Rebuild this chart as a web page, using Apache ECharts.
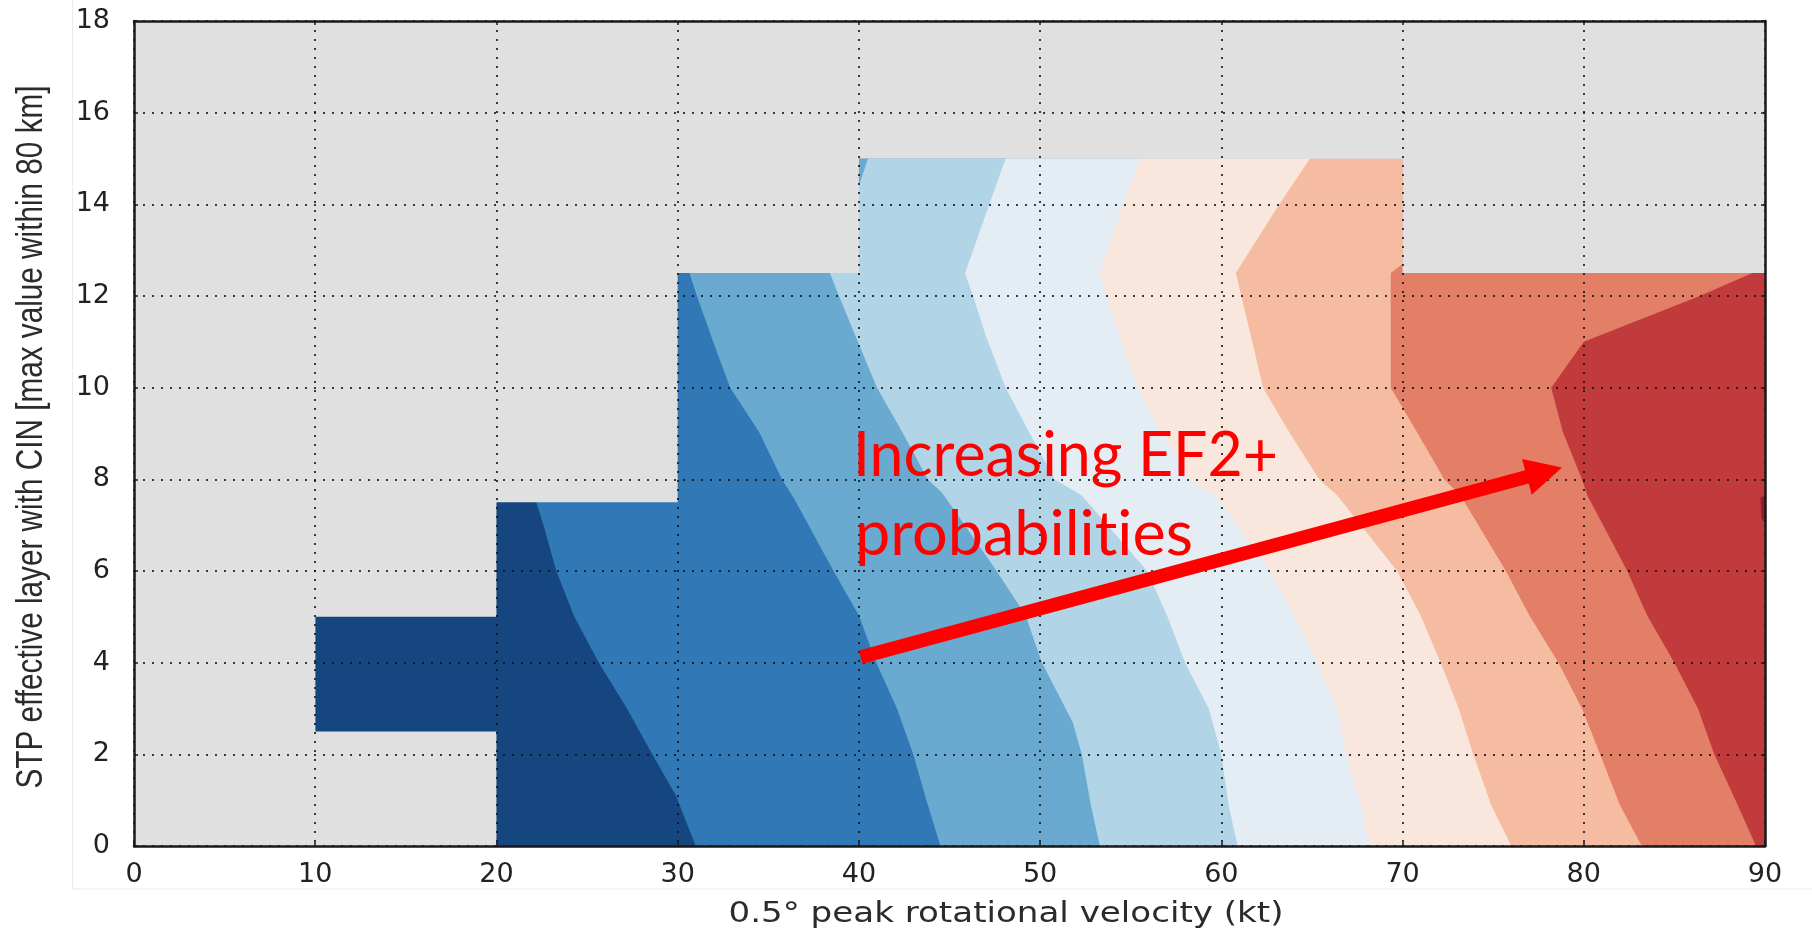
<!DOCTYPE html>
<html><head><meta charset="utf-8">
<script src="https://cdn.jsdelivr.net/npm/echarts@6/dist/echarts.min.js"></script>
<style>html,body{margin:0;padding:0;background:#fff}#c{width:1812px;height:937px}</style>
</head><body><div id="c"></div>
<script>
// ---- data domain (blocks of valid data) ----
const blockX0 = [10, 20, 30, 40, 70];
const blockX1 = [20, 30, 40, 70, 90];
const blockY0 = [2.5, 0, 0, 0, 0];
const blockY1 = [5, 7.5, 12.5, 15, 12.5];

// ---- contour boundaries, listed from top (y=15) to bottom (y=0), [x, y] ----
const bound1 = [[22.2,15],[22.2,7.5],[22.6,7],[23.3,6],[24.3,5],[25.65,4],[27.2,3],[28.6,2],[29.9,1.1],[31.0,0]];
const bound2 = [[30.65,15],[30.65,12.5],[31.06,12],[32.1,10.85],[32.9,10],[34.5,9.03],[35.75,8],[36.4,7.6],[38.6,6],[40.0,5.03],[40.96,4],[42.1,3],[43.0,2],[43.7,1.03],[44.5,0]];
const bound3 = [[40.5,15],[40,14.4],[38.4,12.5],[38.9,12],[39.8,11.14],[41.0,10],[42.4,9.03],[43.8,8],[44.6,7.7],[47.6,6],[49.2,5.03],[50.1,4],[51.8,2.7],[52.3,2],[52.8,0.89],[53.3,0]];
const bound4 = [[48.1,15],[47.2,14],[45.86,12.5],[46.3,12],[47.0,11.14],[48.1,10],[49.4,9.03],[50.8,8],[52.3,7.65],[55.9,6],[57.0,5.03],[58.0,4],[59.3,3],[60.0,2],[60.4,0.89],[60.9,0]];
const bound5 = [[55.5,15],[54.6,14],[53.3,12.5],[53.7,12],[54.6,10.85],[55.4,10],[56.7,9.03],[58.3,8],[59.7,7.65],[62.7,6],[64.0,5.03],[65.3,4],[66.4,3],[66.9,2],[67.7,0.89],[68.2,0]];
const bound6 = [[64.9,15],[63.2,14],[60.8,12.5],[61.1,12],[61.8,10.85],[62.3,10],[63.75,9.03],[65.4,8],[66.4,7.65],[69.7,6],[71.0,5.03],[72.1,4],[73.1,3],[73.9,2],[74.9,0.89],[76.0,0]];
const bound7 = [[70,15],[70,12.7],[69.35,12.5],[69.35,10],[70.8,9.03],[72.3,8],[73.2,7.65],[75.7,6],[77.0,5.03],[78.6,4],[79.9,3],[80.9,2],[82.0,0.89],[83.2,0]];
const bound8 = [[89.3,15],[89.3,12.5],[86.4,12.0],[80.0,11.0],[78.2,10.0],[78.85,9.03],[79.9,8.0],[80.2,7.65],[82.4,6],[83.5,5.03],[85.0,4],[86.3,3],[87.2,2],[88.5,0.89],[89.5,0]];
const peakPatch = [[89.75,7.6],[90,7.65],[90,7.05],[89.8,7.15]];

const bandColors = ['#15467f','#3179b6','#6aaad0','#b1d4e6','#e4edf4','#f9e6dc','#f6bca1','#e27f66','#c23b3c'];
const peakColor = '#8a1f2e';
const maskColor = '#e0e0e0';

// ---- axes ----
const xRange = [0, 90, 10];
const yRange = [0, 18, 2];
const xTitle = '0.5\u00b0 peak rotational velocity (kt)';
const yTitle = 'STP effective layer with CIN [max value within 80 km]';

// ---- annotation ----
const noteLines = ['Increasing EF2+', 'probabilit\u200Cies'];
const arrowTail = [40.1, 4.12];
const arrowTip = [78.8, 8.26];

// ---- build polygons from the arrays ----
const xMin = Math.min(...blockX0), xMax = Math.max(...blockX1), yTop = Math.max(...blockY1);
const bounds = [bound1, bound2, bound3, bound4, bound5, bound6, bound7, bound8];
const bandPolys = [[[xMin,0],[xMax,0],[xMax,yTop],[xMin,yTop]]]
  .concat(bounds.map(b => b.concat([[xMax,0],[xMax,yTop]])));

function maskPoly(){
  const k = blockY0.findIndex(v => v === 0);
  const pts = [[xRange[0], yRange[1]], [xRange[0], 0], [blockX0[k], 0]];
  for (let i = k - 1; i >= 0; i--) {
    pts.push([blockX1[i], blockY0[i]], [blockX0[i], blockY0[i]], [blockX0[i], blockY1[i]], [blockX1[i], blockY1[i]]);
  }
  for (let i = k; i < blockX0.length; i++) {
    pts.push([blockX0[i], blockY1[i]], [blockX1[i], blockY1[i]]);
  }
  pts.push([xRange[1], yRange[1]]);
  return pts;
}
const maskPts = maskPoly();

function measure(text, font){
  const c = document.createElement('canvas').getContext('2d');
  c.font = font; return c.measureText(text).width;
}
const yTitleFont = '36px "Liberation Sans", Arial, sans-serif';
const xTitleFont = '28px "DejaVu Sans", sans-serif';
const noteFont = '61px Lato, "Open Sans", sans-serif';

const chart = echarts.init(document.getElementById('c'), null, {renderer:'canvas'});

const gridDash = {type:[2,7], color:'rgba(15,15,15,0.8)', width:2};
const axLine = {show:true, onZero:false, lineStyle:{color:'#1a1a1a', width:2.5}};
const axTick = {show:true, inside:true, length:4, lineStyle:{color:'#1a1a1a', width:1.5}};
const lblStyle = {fontSize:27, fontFamily:'"DejaVu Sans", sans-serif', color:'#222'};

chart.setOption({
  animation:false,
  backgroundColor:'#ffffff',
  grid:{left:134, right:47, top:21, bottom:91, show:true, backgroundColor:maskColor, borderWidth:0, outerBoundsMode:'none', containLabel:false},
  xAxis:[
    {type:'value', min:xRange[0], max:xRange[1], interval:xRange[2], position:'bottom', z:10,
     axisLine:axLine, axisTick:axTick, axisLabel:Object.assign({margin:15}, lblStyle), splitLine:{show:true, lineStyle:gridDash}},
    {type:'value', min:xRange[0], max:xRange[1], interval:xRange[2], position:'top', z:10,
     axisLine:axLine, axisTick:axTick, axisLabel:{show:false}, splitLine:{show:false}}
  ],
  yAxis:[
    {type:'value', min:yRange[0], max:yRange[1], interval:yRange[2], position:'left', z:10,
     axisLine:axLine, axisTick:axTick, axisLabel:Object.assign({margin:24}, lblStyle), splitLine:{show:true, lineStyle:gridDash}},
    {type:'value', min:yRange[0], max:yRange[1], interval:yRange[2], position:'right', z:10,
     axisLine:axLine, axisTick:axTick, axisLabel:{show:false}, splitLine:{show:false}}
  ],
  series:[
    {type:'custom', name:'bands', coordinateSystem:'cartesian2d', z:2, silent:true,
     data: bandPolys.map((p,i)=>[i]),
     renderItem(params, api){
       const poly = bandPolys[params.dataIndex];
       return {type:'polygon', shape:{points:poly.map(p=>api.coord(p))}, style:{fill:bandColors[params.dataIndex]}};
     }},
    {type:'custom', name:'peak', coordinateSystem:'cartesian2d', z:3, silent:true,
     data:[[0]],
     renderItem(params, api){
       return {type:'polygon', shape:{points:peakPatch.map(p=>api.coord(p))}, style:{fill:peakColor}};
     }},
    {type:'custom', name:'mask', coordinateSystem:'cartesian2d', z:4, silent:true,
     data:[[0]],
     renderItem(params, api){
       return {type:'polygon', shape:{points:maskPts.map(p=>api.coord(p))}, style:{fill:maskColor}};
     }},
    {type:'custom', name:'arrow', coordinateSystem:'cartesian2d', z:30, silent:true,
     data:[[0]],
     renderItem(params, api){
       const a = api.coord(arrowTail), b = api.coord(arrowTip);
       const dx = b[0]-a[0], dy = b[1]-a[1], L = Math.hypot(dx,dy);
       const ux = dx/L, uy = dy/L, nx = -uy, ny = ux;
       const headLen = 36.4, headHalf = 18.5, sh = 6.8;
       const bx = b[0]-ux*headLen, by = b[1]-uy*headLen;
       return {type:'group', children:[
         {type:'polygon', shape:{points:[[a[0]+nx*sh,a[1]+ny*sh],[bx+nx*sh+ux*2,by+ny*sh+uy*2],[bx-nx*sh+ux*2,by-ny*sh+uy*2],[a[0]-nx*sh,a[1]-ny*sh]]}, style:{fill:'#ff0000'}},
         {type:'polygon', shape:{points:[[b[0],b[1]],[bx+nx*headHalf,by+ny*headHalf],[bx-nx*headHalf,by-ny*headHalf]]}, style:{fill:'#ff0000'}}
       ]};
     }}
  ],
  graphic:[
    {type:'rect', z:-10, silent:true, shape:{x:72.5, y:-2, width:1760, height:891}, style:{fill:null, stroke:'#ececec', lineWidth:1}},
    {type:'text', z:100, silent:true, x:32, y:437, rotation:Math.PI/2, scaleX:703/measure(yTitle, yTitleFont),
     style:{text:yTitle, font:yTitleFont, fill:'#2b2b2b', align:'center', verticalAlign:'middle'}},
    {type:'text', z:100, silent:true, x:1006, y:915, scaleX:555/measure(xTitle, xTitleFont),
     style:{text:xTitle, font:xTitleFont, fill:'#2b2b2b', align:'center', verticalAlign:'middle'}},
    {type:'text', z:100, silent:true, x:853, y:456, scaleX:425/measure(noteLines[0], noteFont),
     style:{text:noteLines[0], font:noteFont, fill:'#ff0000', align:'left', verticalAlign:'middle'}},
    {type:'text', z:100, silent:true, x:855, y:535, scaleX:338/measure(noteLines[1], noteFont),
     style:{text:noteLines[1], font:noteFont, fill:'#ff0000', align:'left', verticalAlign:'middle'}}
  ]
});
</script></body></html>
